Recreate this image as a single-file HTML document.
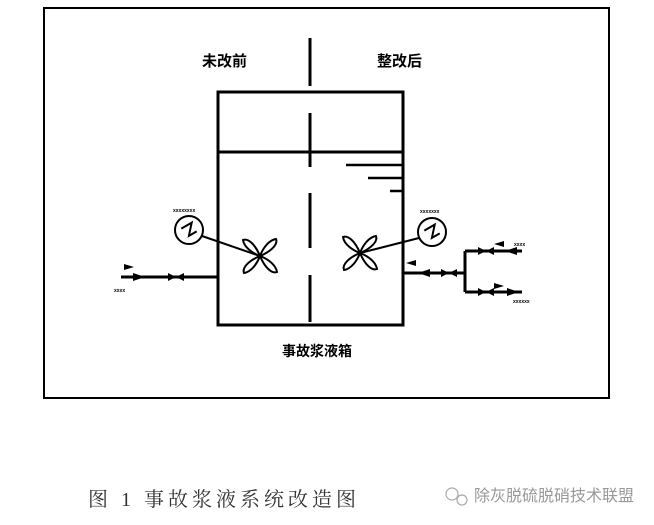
<!DOCTYPE html>
<html><head><meta charset="utf-8"><style>
html,body{margin:0;padding:0;background:#fff;width:654px;height:525px;overflow:hidden}
svg{display:block}
</style></head><body>
<svg width="654" height="525" viewBox="0 0 654 525" xmlns="http://www.w3.org/2000/svg">
<rect x="44" y="8" width="565" height="390" fill="none" stroke="#000" stroke-width="2"/>
<g stroke="#000" stroke-width="3" fill="none">
<rect x="218" y="92" width="185" height="233"/>
<line x1="218" y1="152" x2="403" y2="152"/>
<line x1="310" y1="38" x2="310" y2="86"/>
<line x1="310" y1="113" x2="310" y2="167"/>
<line x1="310" y1="193" x2="310" y2="248"/>
<line x1="310" y1="275" x2="310" y2="322"/>
<line x1="346" y1="165" x2="403" y2="165" stroke-width="2.5"/>
<line x1="368" y1="178" x2="403" y2="178" stroke-width="2.5"/>
<line x1="390" y1="191" x2="403" y2="191" stroke-width="2.5"/>
<line x1="121" y1="277" x2="218" y2="277"/>
<line x1="403" y1="273" x2="465" y2="273"/>
<line x1="465" y1="251" x2="465" y2="292"/>
<line x1="465" y1="251" x2="522" y2="251"/>
<line x1="465" y1="292" x2="522" y2="292"/>
</g>
<g stroke="#000" stroke-width="2" fill="#fff">
<circle cx="189" cy="230" r="14"/>
<circle cx="432" cy="232" r="14"/>
<line x1="202" y1="236" x2="260" y2="256"/>
<line x1="419" y1="238" x2="360" y2="253"/>
</g>
<g stroke="#000" stroke-width="2" fill="none">
<path d="M183 225 L195 225 L186 235 L195 235" transform="rotate(-30 189 230)"/>
<path d="M426 227 L438 227 L429 237 L438 237" transform="rotate(-30 432 232)"/>
<g transform="translate(260,256)">
<path d="M0 0 C-5 -12 -12 -18 -17 -16 C-16 -9 -8 -3 0 0 Z"/>
<path d="M0 0 C12 -5 18 -12 16 -17 C9 -16 3 -8 0 0 Z"/>
<path d="M0 0 C5 12 12 18 17 16 C16 9 8 3 0 0 Z"/>
<path d="M0 0 C-12 5 -18 12 -16 17 C-9 16 -3 8 0 0 Z"/>
</g>
<g transform="translate(360,253)">
<path d="M0 0 C-5 -12 -12 -18 -17 -16 C-16 -9 -8 -3 0 0 Z"/>
<path d="M0 0 C12 -5 18 -12 16 -17 C9 -16 3 -8 0 0 Z"/>
<path d="M0 0 C5 12 12 18 17 16 C16 9 8 3 0 0 Z"/>
<path d="M0 0 C-12 5 -18 12 -16 17 C-9 16 -3 8 0 0 Z"/>
</g>
</g>
<g fill="#000">
<polygon points="133,273 145,277 133,281"/>
<polygon points="124,264 134,267 124,270"/>
<polygon points="168,273 176,277 168,281"/><polygon points="184,273 176,277 184,281"/>
<polygon points="430,269 418,273 430,277"/>
<polygon points="416,260 406,263 416,266"/>
<polygon points="441,269 449,273 441,277"/><polygon points="457,269 449,273 457,277"/>
<polygon points="478,247 486,251 478,255"/><polygon points="494,247 486,251 494,255"/>
<polygon points="478,288 486,292 478,296"/><polygon points="494,288 486,292 494,296"/>
<polygon points="517,247 505,251 517,255"/>
<polygon points="507,288 519,292 507,296"/>
<polygon points="504,241 494,244 504,247"/>
<polygon points="494,283 504,286 494,289"/>
</g>
<g font-family="'Liberation Sans','Noto Sans CJK SC',sans-serif" font-weight="bold" fill="#000">
<text x="202" y="66" font-size="15">未改前</text>
<text x="377" y="66" font-size="15">整改后</text>
<text x="282" y="356" font-size="14">事故浆液箱</text>
<text x="173" y="212" font-size="5">xxxxxxxx</text>
<text x="420" y="213" font-size="5">xxxxxxx</text>
<text x="114" y="292" font-size="5">xxxx</text>
<text x="514" y="246" font-size="5">xxxx</text>
<text x="513" y="303" font-size="5">xxxxxx</text>
</g>
<text x="88" y="506" font-family="'Liberation Serif','Noto Serif CJK SC',serif" font-size="20" fill="#333" letter-spacing="4">图 1 事故浆液系统改造图</text>
<g stroke="#aaa" stroke-width="1.2" fill="none">
<circle cx="452" cy="494" r="6"/><circle cx="462" cy="500" r="5"/>
</g>
<text x="474" y="501" font-family="'Liberation Sans','Noto Sans CJK SC',sans-serif" font-size="16" fill="#999">除灰脱硫脱硝技术联盟</text>
</svg>
</body></html>
